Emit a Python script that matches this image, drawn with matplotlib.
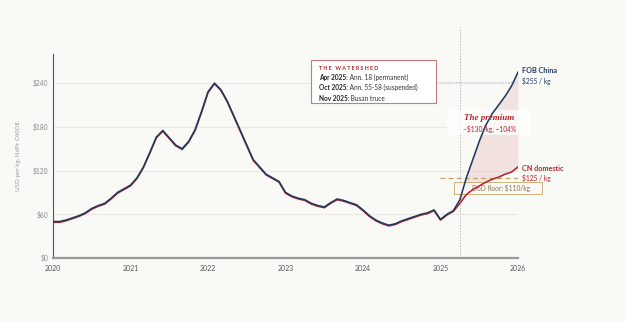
import matplotlib
matplotlib.use("Agg")
import matplotlib.pyplot as plt
import numpy as np
import pandas as pd

# ---- data (monthly, Jan 2020 .. Jan 2026) ----
fob_china = [50, 50, 52, 55, 58, 62, 68, 72, 75, 82, 90, 95,
             100, 110, 125, 145, 166, 175, 165, 155, 150, 160, 176, 201,
             228, 240, 231, 215, 195, 175, 155, 135, 125, 115, 110, 105,
             90, 85, 82, 80, 75, 72, 70, 76, 81, 79, 76, 73,
             66, 58, 52, 48, 45, 47, 51, 54, 57, 60, 62, 66,
             53, 60, 65, 80, 110, 135, 160, 182, 198, 210, 222, 236,
             255]
cn_domestic = [49, 49, 51, 54, 57, 61, 67, 71, 74, 81, 89, 94,
               99, 109, 124, 144, 165, 174, 164, 154, 149, 159, 175, 200,
               227, 239, 230, 214, 194, 174, 154, 134, 124, 114, 109, 104,
               89, 84, 81, 79, 74, 71, 69, 75, 80, 78, 75, 72,
               65, 57, 51, 47, 44, 46, 50, 53, 56, 59, 61, 65,
               52, 59, 64, 75, 87, 94, 99, 104, 108, 111, 115, 118,
               125]
dod_floor = 110
year_ticks = [2020, 2021, 2022, 2023, 2024, 2025, 2026]
y_ticks = [0, 60, 120, 180, 240]
y_ticklabels = ["$0", "$60", "$120", "$180", "$240"]
watershed_dates = ["Apr 2025:", "Oct 2025:", "Nov 2025:"]
watershed_notes = ["Ann. 18 (permanent)", "Ann. 55-58 (suspended)", "Busan truce"]

dates = pd.date_range("2020-01-01", periods=len(fob_china), freq="MS")
xnum = dates.year + (dates.month - 1) / 12.0

BG = "#f9f9f6"
NAVY = "#1f3a5f"
RED = "#b5252e"
TAN = "#c8a464"
FONT = ["Lato", "DejaVu Sans"]
plt.rcParams["font.family"] = FONT

fig = plt.figure(figsize=(6.26, 3.22), dpi=100, facecolor=BG)
ax = fig.add_axes([53/626, 1-258/322, (518-53)/626, (258-54)/322])
ax.set_facecolor(BG)

ax.set_xlim(2020, 2026)
ax.set_ylim(0, 280)

for yv in y_ticks[1:]:
    ax.axhline(yv, color="#e8e8e4", lw=0.8, zorder=0)

# shaded premium
mask = xnum >= 2025.25
ax.fill_between(np.array(xnum)[mask], np.array(fob_china)[mask], np.array(cn_domestic)[mask],
                color="#ebcaca", alpha=0.5, lw=0, zorder=1)

ax.plot(xnum, cn_domestic, color=RED, lw=1.15, zorder=3)
ax.plot(xnum, fob_china, color=NAVY, lw=1.15, zorder=4)

# DoD floor
ax.plot([2024.99, 2026.0], [dod_floor, dod_floor], color=TAN, lw=0.9, ls=(0, (4, 2.5)), zorder=2)
ax.add_patch(plt.Rectangle((2025.17, 87.8), 1.14, 16.4, fc="#fbfaf6", ec=TAN, lw=0.7, alpha=0.85,
                           zorder=2.5, clip_on=False))
ax.text(2025.78, 96, "DoD floor: $110/kg", fontsize=4.8, color="#8a7350", ha="center", va="center",
        zorder=2.6, clip_on=False)

# vertical watershed line
ax.axvline(2025.25, ymin=0, ymax=(258-27)/(258-54), color="#a0a0a0", lw=0.6, ls=(0, (1.5, 2)),
           clip_on=False, zorder=2)

# dotted leader at 240
ax.plot([2024.98, 2025.95], [242, 242], color="#c4c4c4", lw=0.9, ls=(0, (1, 1.2)), zorder=2)

# watershed box
bx0, bx1 = 2023.33, 2024.94
by0, by1 = 212.5, 271.6
ax.add_patch(plt.Rectangle((bx0, by0), bx1 - bx0, by1 - by0, fc="white", ec="#c97a7a", lw=0.8,
                           zorder=6, clip_on=False))
ax.text(2023.43, 260.6, "T H E   W A T E R S H E D", fontsize=3.9, color=RED, fontweight="bold",
        ha="left", va="center", zorder=7)
for i, (d, n) in enumerate(zip(watershed_dates, watershed_notes)):
    yy = 248 - i * 14.3
    t = ax.text(2023.43, yy, d, fontsize=4.7, color="#222222", fontweight="bold", ha="left",
                va="center", zorder=7)
    ax.annotate(" " + n, xycoords=t, xy=(1, 0.5), va="center", ha="left", fontsize=4.7,
                color="#333333", zorder=7)

# premium annotation
ax.add_patch(plt.Rectangle((2025.08, 168.7), 1.07, 34.3, fc="white", ec="none", alpha=0.75,
                           zorder=2.5, clip_on=False))
ax.text(2025.63, 192, "The premium", fontsize=6.5, color=RED, fontstyle="italic", fontweight="bold",
        family=["Liberation Serif", "DejaVu Serif"], ha="center", va="center", zorder=6)
ax.text(2025.63, 177, "~$130/kg, ~104%", fontsize=4.8, color=RED, ha="center", va="center", zorder=6)

# end labels
ax.text(2026.05, 258, "FOB China", fontsize=5.2, color=NAVY, fontweight="bold", ha="left",
        va="center", clip_on=False)
ax.text(2026.05, 243, "$255 / kg", fontsize=4.8, color=NAVY, ha="left", va="center", clip_on=False)
ax.text(2026.05, 123, "CN domestic", fontsize=5.2, color=RED, fontweight="bold", ha="left",
        va="center", clip_on=False)
ax.text(2026.05, 109, "$125 / kg", fontsize=4.8, color=RED, ha="left", va="center", clip_on=False)

# axes styling
ax.set_xticks(year_ticks)
ax.set_xticklabels([str(y) for y in year_ticks], fontsize=5, color="#555555")
ax.set_yticks(y_ticks)
ax.set_yticklabels(y_ticklabels, fontsize=4.8, color="#888888")
ax.tick_params(axis="x", length=0, pad=5)
ax.tick_params(axis="y", length=0, pad=3.6)
for s in ["top", "right"]:
    ax.spines[s].set_visible(False)
ax.spines["left"].set_color("#555555")
ax.spines["left"].set_linewidth(0.8)
ax.spines["bottom"].set_color("#9a9a96")
ax.spines["bottom"].set_linewidth(1.6)
ax.set_ylabel("USD per kg, NdPr OXIDE", fontsize=4.5, color="#9a9a9a", labelpad=8)

fig.savefig("out.png", dpi=100, facecolor=BG)
